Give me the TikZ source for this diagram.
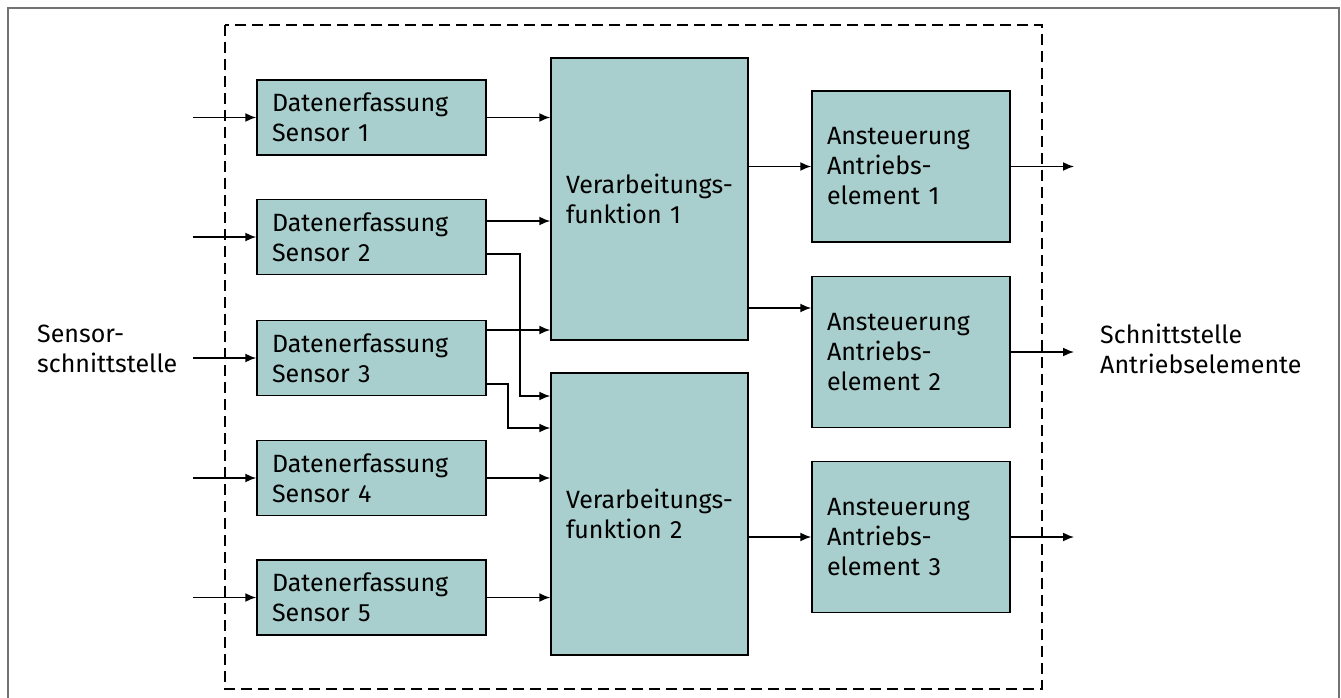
\documentclass[tikz,border=0pt]{standalone}
\usepackage{fontspec}
\setmainfont{Fira Sans}
\usetikzlibrary{arrows.meta,calc}
\definecolor{boxfill}{RGB}{168,207,205}
\begin{document}
\begin{tikzpicture}[x=1pt,y=-1pt,
  every node/.style={font=\fontsize{25}{30}\selectfont},
  block/.style={draw=black,line width=1.5pt,fill=boxfill,align=left,
    inner xsep=15pt,inner ysep=0pt},
  sensorbox/.style={block,text width=199pt,minimum height=75pt},
  procbox/.style={block,text width=167pt,minimum height=282pt},
  drivebox/.style={block,text width=168pt,minimum height=151pt},
  label/.style={align=left,inner sep=0pt,anchor=west},
  flow/.style={line width=1.6pt,-{Latex[length=11pt,width=9pt]}}
]
\useasboundingbox (0,0) rectangle (1341,698);

% outer frame and system boundary
\draw[black!55,line width=1.5pt] (8,698) -- (8,8) -- (1339,8) -- (1339,698);
\draw[line width=1.6pt,dash pattern=on 11pt off 6pt] (225,25) rectangle (1042,689);

% acquisition blocks
\node[sensorbox] (s1) at (371.5,117.5) {Datenerfassung\\Sensor 1};
\node[sensorbox] (s2) at (371.5,237)   {Datenerfassung\\Sensor 2};
\node[sensorbox] (s3) at (371.5,358)   {Datenerfassung\\Sensor 3};
\node[sensorbox] (s4) at (371.5,478)   {Datenerfassung\\Sensor 4};
\node[sensorbox] (s5) at (371.5,597.5) {Datenerfassung\\Sensor 5};

% processing blocks
\node[procbox] (v1) at (649.5,199) {Verarbeitungs-\\funktion 1};
\node[procbox] (v2) at (649.5,514) {Verarbeitungs-\\funktion 2};

% actuator control blocks
\node[drivebox] (a1) at (911,166.5) {Ansteuerung\\Antriebs-\\element 1};
\node[drivebox] (a2) at (911,352)   {Ansteuerung\\Antriebs-\\element 2};
\node[drivebox] (a3) at (911,537)   {Ansteuerung\\Antriebs-\\element 3};

% interface labels
\node[label] (lin)  at (37,349)   {Sensor-\\schnittstelle};
\node[label] (lout) at (1100,349) {Schnittstelle\\Antriebselemente};

% free ends of the interface arrows
\coordinate (i1) at (193,117.5);
\coordinate (i2) at (193,237);
\coordinate (i3) at (193,358);
\coordinate (i4) at (193,478);
\coordinate (i5) at (193,597.5);
\coordinate (o1) at (1074,166.5);
\coordinate (o2) at (1074,352);
\coordinate (o3) at (1074,537);

% sensor inputs
\foreach \k in {1,...,5} \draw[flow] (i\k) -- (s\k.west);

% acquisition to processing
\draw[flow] (s1.east) -- (s1.east -| v1.west);
\draw[flow] ([yshift=16pt]s2.east) -- ([yshift=16pt]s2.east -| v1.west);
\draw[flow] ([yshift=-17pt]s2.east) -- ++(33,0) |- ([yshift=118pt]v2.west);
\draw[flow] ([yshift=28pt]s3.east) -- ([yshift=28pt]s3.east -| v1.west);
\draw[flow] ([yshift=-26pt]s3.east) -- ++(21,0) |- ([yshift=86pt]v2.west);
\draw[flow] (s4.east) -- (s4.east -| v2.west);
\draw[flow] (s5.east) -- (s5.east -| v2.west);

% processing to actuator control
\draw[flow] (v1.east |- a1.west) -- (a1.west);
\draw[flow] ([yshift=44pt]a2.west -| v1.east) -- ([yshift=44pt]a2.west);
\draw[flow] (v2.east |- a3.west) -- (a3.west);

% actuator outputs
\draw[flow] (a1.east) -- (o1);
\draw[flow] (a2.east) -- (o2);
\draw[flow] (a3.east) -- (o3);
\end{tikzpicture}
\end{document}
